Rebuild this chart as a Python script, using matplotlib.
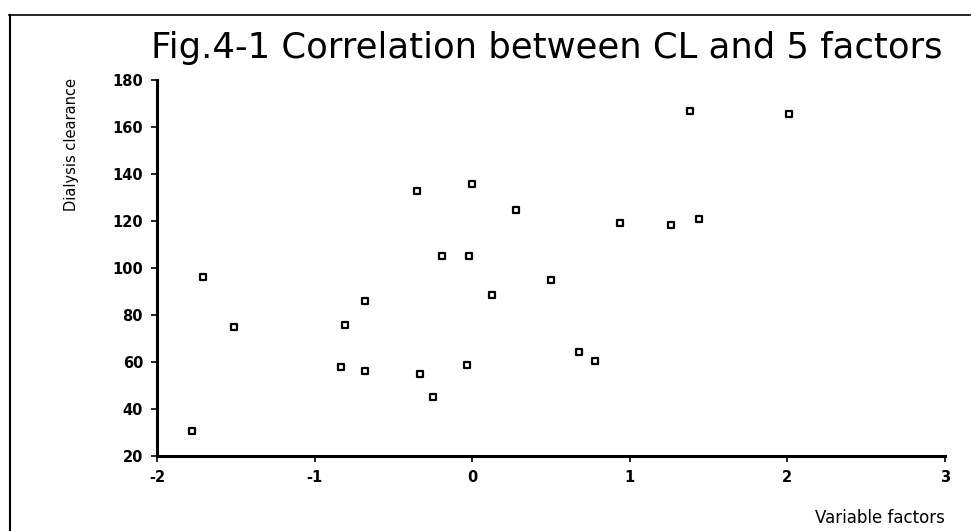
import matplotlib.pyplot as plt
from matplotlib.lines import Line2D

plt.rcParams["axes.unicode_minus"] = False

# values
factors = [-1.78, -1.71, -1.51, -0.83, -0.81, -0.68, -0.68, -0.35, -0.33, -0.25,
           -0.19, -0.03, -0.02, 0.00, 0.125, 0.28, 0.50, 0.68, 0.78, 0.94,
           1.26, 1.38, 1.44, 2.01]
clearance = [30.6, 96.0, 75.0, 57.7, 75.9, 86.0, 56.0, 132.9, 54.9, 45.0,
             105.1, 58.6, 105.0, 135.7, 88.6, 124.7, 94.9, 64.1, 60.4, 119.3,
             118.4, 166.9, 121.0, 165.4]
x_ticks = [-2, -1, 0, 1, 2, 3]
y_ticks = [20, 40, 60, 80, 100, 120, 140, 160, 180]

fig = plt.figure(figsize=(9.71, 5.31), dpi=100)
ax = fig.add_axes([0.1617, 0.1412, 0.8115, 0.7081])

ax.scatter(factors, clearance, marker="s", s=22, facecolor="white",
           edgecolor="black", linewidth=1.6, zorder=3)

ax.set_xlim(-2, 3)
ax.set_ylim(20, 180)
ax.set_xticks(x_ticks)
ax.set_yticks(y_ticks)
ax.tick_params(direction="out", length=4, width=1.2, labelsize=10.5, pad=6)
for lab in ax.get_xticklabels() + ax.get_yticklabels():
    lab.set_fontweight("bold")

for s in ["top", "right"]:
    ax.spines[s].set_visible(False)
for s in ["left", "bottom"]:
    ax.spines[s].set_linewidth(2.2)

fig.text(0.563, 0.91, "Fig.4-1 Correlation between CL and 5 factors",
         ha="center", va="center", fontsize=25.5)
fig.text(0.074, 0.727, "Dialysis clearance", rotation=90,
         ha="center", va="center", fontsize=10.5, family="Liberation Sans Narrow")
fig.text(0.973, 0.008, "Variable factors", ha="right", va="bottom", fontsize=12)

# scanned page frame
fig.add_artist(Line2D([0.009, 0.999], [0.972, 0.972], color="black", lw=1.2,
                      transform=fig.transFigure))
fig.add_artist(Line2D([0.010, 0.010], [0.0, 0.972], color="black", lw=1.5,
                      transform=fig.transFigure))

fig.savefig("out.png", dpi=100)
